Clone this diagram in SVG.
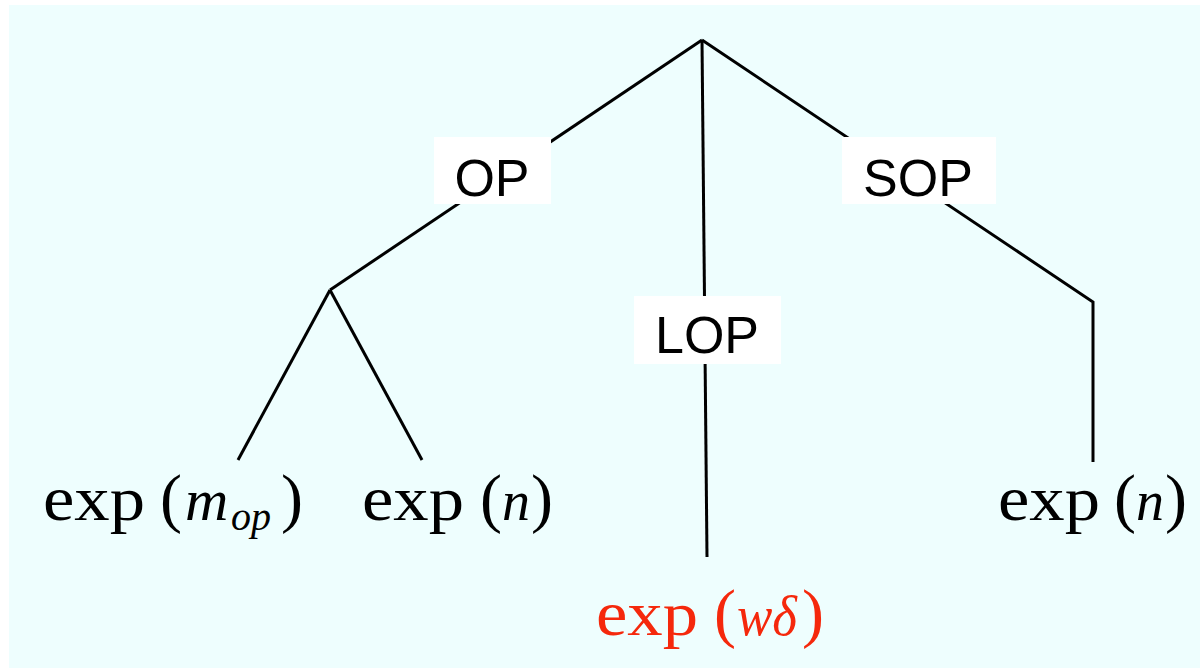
<svg xmlns="http://www.w3.org/2000/svg" width="1200" height="672" viewBox="0 0 1200 672">
<style>
.edge{stroke:#000;stroke-width:3;fill:none}
.box{fill:#fff}
.lbl{font-family:"Liberation Sans",Arial,sans-serif;font-size:52px;fill:#000;text-anchor:middle}
.math{font-family:"Liberation Serif","Times New Roman",serif;font-size:64px;fill:#000}
.it{font-style:italic;font-size:56px}
.sub{font-style:italic;font-size:40px}
.par{font-size:66px}
.red{fill:#f5280c}
</style>
<rect x="0" y="0" width="1200" height="672" fill="#fff"/>
<rect x="9" y="5" width="1191" height="663" fill="#eefefe"/>
<g id="connectors">
<line class="edge" x1="702" y1="40" x2="330" y2="290"/>
<line class="edge" x1="702" y1="40" x2="707" y2="557"/>
<polyline class="edge" points="702,40 1093,302 1093,462"/>
<line class="edge" x1="330" y1="290" x2="238" y2="460"/>
<line class="edge" x1="330" y1="290" x2="422" y2="460"/>
</g>
<g id="op">
<rect class="box" x="434" y="137" width="117" height="67"/>
<text class="lbl" x="492" y="196">OP</text>
</g>
<g id="lop">
<rect class="box" x="634" y="296" width="147" height="68"/>
<text class="lbl" x="707" y="353">LOP</text>
</g>
<g id="sop">
<rect class="box" x="842" y="137" width="154" height="67"/>
<text class="lbl" x="918" y="196">SOP</text>
</g>
<g id="leaf-mop">
<text class="math" y="520"><tspan x="43" textLength="102" lengthAdjust="spacingAndGlyphs">exp</tspan><tspan x="160" class="par">(</tspan><tspan x="185" class="it" style="font-size:60px">m</tspan><tspan x="231" dy="10" class="sub">op</tspan><tspan x="281" dy="-10" class="par">)</tspan></text>
</g>
<g id="leaf-n1">
<text class="math" y="520"><tspan x="362" textLength="102" lengthAdjust="spacingAndGlyphs">exp</tspan><tspan x="480" class="par">(</tspan><tspan x="502" class="it">n</tspan><tspan x="531" class="par">)</tspan></text>
</g>
<g id="leaf-wd">
<text class="math red" y="635"><tspan x="596" textLength="102" lengthAdjust="spacingAndGlyphs">exp</tspan><tspan x="714" class="par">(</tspan><tspan x="737" class="it" textLength="60" lengthAdjust="spacingAndGlyphs">wδ</tspan><tspan x="802" class="par">)</tspan></text>
</g>
<g id="leaf-n2">
<text class="math" y="520"><tspan x="998" textLength="102" lengthAdjust="spacingAndGlyphs">exp</tspan><tspan x="1114" class="par">(</tspan><tspan x="1136" class="it">n</tspan><tspan x="1165" class="par">)</tspan></text>
</g>
</svg>
